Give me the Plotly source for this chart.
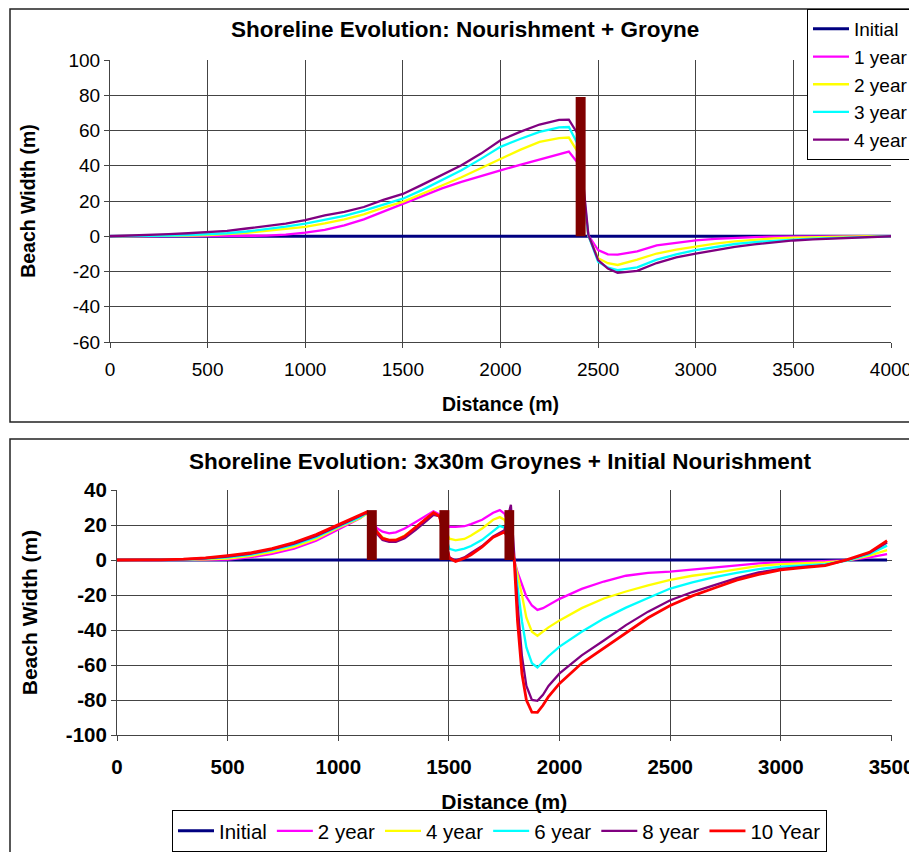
import plotly.graph_objects as go

# ---------------- Top chart data: Nourishment + Groyne ----------------
top_distance = [0, 100, 200, 300, 400, 500, 600, 700, 800, 900, 1000, 1100, 1200, 1300, 1400,
                1500, 1600, 1700, 1800, 1900, 2000, 2100, 2200, 2300, 2350, 2400, 2450, 2500,
                2550, 2600, 2700, 2800, 2900, 3000, 3100, 3200, 3300, 3400, 3500, 3600, 3700,
                3800, 3900, 4000]
top_initial = [0, 0, 0, 0, 0, 0, 0, 0, 0, 0, 0, 0, 0, 0, 0, 0, 0, 0, 0, 0, 0, 0, 0, 0,
               0, 0, 0, 0, 0, 0, 0, 0, 0, 0, 0, 0, 0, 0, 0, 0, 0, 0, 0, 0]
top_1year = [0, 0, 0, 0, 0, 0, 0, 0.1, 0.3, 0.9, 2.0, 3.6, 6.2, 9.6, 14.0, 18.3, 22.7, 27.2,
             30.8, 34.2, 37.4, 40.5, 43.5, 46.7, 48.0, 41.0, 0.5, -7.9, -10.3, -10.4, -8.6,
             -5.2, -3.6, -2.3, -1.5, -0.9, -0.5, -0.2, -0.1, 0, 0, 0, 0, 0]
top_2year = [0, 0, 0, 0.1, 0.3, 0.7, 1.2, 2.0, 3.0, 4.1, 5.3, 7.3, 9.6, 12.4, 16.2, 19.5,
             24.0, 28.8, 33.5, 38.6, 44.1, 49.0, 53.5, 55.7, 56.0, 47.0, 0.3, -12.5, -15.3,
             -16.3, -13.3, -9.8, -7.6, -5.7, -4.2, -2.9, -1.9, -1.2, -0.8, -0.5, -0.3, -0.1,
             0, 0]
top_3year = [0, 0, 0.2, 0.4, 0.7, 1.0, 1.7, 2.7, 3.9, 5.4, 7.1, 9.2, 11.6, 14.5, 17.9, 21.3,
             26.3, 31.8, 37.4, 43.9, 50.7, 55.2, 59.2, 61.8, 62.0, 51.3, 0.5, -14.4, -17.8,
             -19.2, -17.6, -13.3, -10.3, -7.9, -6.0, -4.4, -3.3, -2.5, -1.9, -1.4, -0.9, -0.6,
             -0.3, 0]
top_4year = [0, 0.3, 0.7, 1.2, 1.7, 2.3, 3.0, 4.4, 5.7, 7.2, 9.1, 11.9, 13.8, 16.6, 20.6,
             24.0, 29.3, 34.6, 40.3, 46.9, 54.5, 59.2, 63.4, 66.0, 66.2, 57.3, 0.8, -13.5,
             -18.3, -20.8, -19.6, -15.2, -12.0, -9.8, -7.8, -6.0, -4.6, -3.4, -2.4, -1.8,
             -1.3, -0.9, -0.5, 0]
top_groyne_start = [2385]
top_groyne_end = [2436]
top_groyne_height = [79]
top_x_ticks = [0, 500, 1000, 1500, 2000, 2500, 3000, 3500, 4000]
top_y_ticks = [-60, -40, -20, 0, 20, 40, 60, 80, 100]
top_y_ticklabels = ["-60", "-40", "-20", "0", "20", "40", "60", "80", "100"]

# ---------------- Bottom chart data: 3x30m Groynes + Initial Nourishment ----------------
bot_distance = [0, 100, 200, 300, 400, 500, 600, 700, 800, 900, 1000, 1100, 1130, 1175, 1200,
                1230, 1260, 1300, 1350, 1400, 1430, 1457, 1502, 1530, 1570, 1600, 1650, 1700,
                1730, 1751, 1780, 1795, 1810, 1830, 1850, 1875, 1900, 1925, 1950, 2000, 2100,
                2200, 2300, 2400, 2500, 2600, 2700, 2800, 2900, 3000, 3100, 3200, 3300, 3400,
                3480]
bot_initial = [0, 0, 0, 0, 0, 0, 0, 0, 0, 0, 0, 0, 0, 0, 0, 0, 0, 0, 0, 0, 0, 0, 0, 0, 0,
               0, 0, 0, 0, 0, 0, 0, 0, 0, 0, 0, 0, 0, 0, 0, 0, 0, 0, 0, 0, 0, 0, 0, 0, 0, 0,
               0, 0, 0, 0]
bot_2year = [0, 0, 0, 0, 0, 0.2, 1.5, 3.5, 6.5, 11.0, 17.5, 24.0, 27.0, 18.1, 16.2, 15.2,
             15.8, 18.0, 21.7, 25.3, 27.8, 26.0, 19.0, 18.9, 19.3, 20.5, 23.0, 27.0, 28.5,
             26.5, 18.0, 0, -7.0, -14.0, -21.0, -26.0, -28.5, -27.5, -25.8, -22.2, -16.5,
             -12.3, -9.0, -7.4, -6.6, -5.5, -4.3, -2.9, -1.9, -1.3, -0.9, -0.6, -0.2, 1.5, 3.4]
bot_4year = [0, 0, 0, 0, 0.3, 0.8, 2.2, 4.5, 7.5, 12.0, 18.5, 24.0, 26.5, 16.3, 13.0, 11.3,
             11.6, 14.0, 18.7, 24.0, 27.0, 25.0, 12.2, 11.4, 12.0, 14.0, 18.0, 23.0, 24.5,
             23.0, 14.0, 0, -8.0, -20.0, -33.0, -41.0, -43.3, -41.0, -38.5, -34.5, -27.5,
             -22.0, -18.0, -14.5, -11.3, -9.0, -7.4, -5.3, -3.3, -2.3, -1.8, -1.4, -0.3, 2.5,
             5.7]
bot_6year = [0, 0, 0, 0.2, 0.8, 1.5, 3.0, 5.5, 8.7, 13.0, 19.0, 24.5, 27.0, 16.3, 12.5, 10.9,
             11.0, 13.5, 18.3, 23.5, 26.5, 25.0, 6.4, 5.4, 6.5, 8.0, 11.5, 16.5, 19.5, 18.5,
             10.0, 0, -15.0, -35.0, -50.0, -59.0, -61.4, -58.0, -55.0, -49.5, -41.0, -33.5,
             -27.2, -21.7, -16.3, -12.8, -9.8, -7.3, -5.2, -3.8, -3.0, -2.3, -0.3, 3.4, 8.2]
bot_8year = [0, 0, 0, 0.3, 1.0, 2.0, 3.5, 6.0, 9.3, 13.8, 19.5, 25.0, 27.0, 15.0, 11.5, 10.3,
             10.3, 12.5, 17.2, 22.5, 25.8, 25.0, 1.5, -0.4, 1.5, 4.0, 8.0, 13.5, 15.5, 17.0,
             31.5, 0, -25.0, -55.0, -72.0, -80.0, -80.5, -77.0, -72.0, -64.8, -54.5, -46.0,
             -37.2, -29.5, -23.0, -18.3, -14.3, -10.3, -7.1, -5.1, -3.9, -2.9, 0, 4.0, 10.0]
bot_10year = [0, 0, 0.1, 0.5, 1.2, 2.5, 4.0, 6.5, 10.0, 14.5, 20.0, 25.5, 27.5, 16.0, 12.3,
              11.3, 11.3, 13.5, 18.5, 23.5, 27.0, 25.0, 1.0, -0.8, 1.0, 3.0, 7.5, 13.0, 15.0,
              16.0, 10.0, 0, -35.0, -65.0, -80.0, -87.0, -87.1, -83.0, -78.0, -70.5, -59.0,
              -50.5, -41.5, -33.0, -26.0, -20.5, -16.0, -11.5, -8.2, -5.7, -4.3, -3.2, 0.2,
              4.4, 11.0]
bot_groyne_start = [1129, 1457, 1751]
bot_groyne_end = [1174, 1502, 1795]
bot_groyne_height = [28.5, 28.5, 28.5]
bot_x_ticks = [0, 500, 1000, 1500, 2000, 2500, 3000, 3500]
bot_y_ticks = [-100, -80, -60, -40, -20, 0, 20, 40]
bot_y_ticklabels = ["-100", "-80", "-60", "-40", "-20", "0", "20", "40"]

top_series = [("Initial", top_initial, "#000080", 3),
              ("1 year", top_1year, "#FF00FF", 2.3),
              ("2 year", top_2year, "#FFFF00", 2.3),
              ("3 year", top_3year, "#00FFFF", 2.3),
              ("4 year", top_4year, "#800080", 2.3)]
bot_series = [("Initial", bot_initial, "#000080", 3),
              ("2 year", bot_2year, "#FF00FF", 2.3),
              ("4 year", bot_4year, "#FFFF00", 2.3),
              ("6 year", bot_6year, "#00FFFF", 2.3),
              ("8 year", bot_8year, "#800080", 2.3),
              ("10 Year", bot_10year, "#FF0000", 2.8)]

FONT = "Liberation Sans, Arial, sans-serif"
W, H = 909, 852
GRID = "#444444"

fig = go.Figure()

for name, vals, col, lw in top_series:
    fig.add_trace(go.Scatter(x=top_distance, y=vals, name=name, mode="lines",
                             line=dict(color=col, width=lw), xaxis="x", yaxis="y",
                             legend="legend"))
for g0, g1, gh in zip(top_groyne_start, top_groyne_end, top_groyne_height):
    fig.add_trace(go.Scatter(x=[g0, g1, g1, g0, g0], y=[0, 0, gh, gh, 0], mode="lines",
                             fill="toself", fillcolor="#800000", line=dict(width=0, color="#800000"),
                             showlegend=False, hoverinfo="skip", xaxis="x", yaxis="y"))

for name, vals, col, lw in bot_series:
    fig.add_trace(go.Scatter(x=bot_distance, y=vals, name=name, mode="lines",
                             line=dict(color=col, width=lw), xaxis="x2", yaxis="y2",
                             legend="legend2"))
for g0, g1, gh in zip(bot_groyne_start, bot_groyne_end, bot_groyne_height):
    fig.add_trace(go.Scatter(x=[g0, g1, g1, g0, g0], y=[0, 0, gh, gh, 0], mode="lines",
                             fill="toself", fillcolor="#800000", line=dict(width=0, color="#800000"),
                             showlegend=False, hoverinfo="skip", xaxis="x2", yaxis="y2"))

axis_common = dict(showgrid=True, gridcolor=GRID, gridwidth=1, zeroline=False,
                   showline=True, linecolor=GRID, linewidth=1, ticks="outside",
                   ticklen=5, tickcolor=GRID, fixedrange=True, automargin=False,
                   ticklabeloverflow="allow")

fig.update_layout(
    width=W, height=H, margin=dict(l=0, r=0, t=0, b=0, autoexpand=False),
    paper_bgcolor="white", plot_bgcolor="white",
    font=dict(family=FONT, color="black"),
    xaxis=dict(domain=[110 / W, 891 / W], anchor="y", range=[0, 4000],
               tickmode="array", tickvals=top_x_ticks, ticklabelstandoff=5,
               tickfont=dict(size=19, family=FONT),
               title=dict(text="Distance (m)", font=dict(size=19.5, family=FONT, weight="bold"),
                          standoff=18),
               **axis_common),
    yaxis=dict(domain=[1 - 342 / H, 1 - 60 / H], anchor="x", range=[-60, 100],
               tickmode="array", tickvals=top_y_ticks, ticktext=top_y_ticklabels,
               tickfont=dict(size=19, family=FONT),
               title=dict(text="Beach Width (m)", font=dict(size=19.5, family=FONT, weight="bold"),
                          standoff=27),
               **axis_common),
    xaxis2=dict(domain=[117 / W, 891.5 / W], anchor="y2", range=[0, 3500],
                tickmode="array", tickvals=bot_x_ticks, ticklabelstandoff=8,
                tickfont=dict(size=20.5, family=FONT, weight="bold"),
                title=dict(text="Distance (m)", font=dict(size=21, family=FONT, weight="bold"),
                           standoff=17),
                **axis_common),
    yaxis2=dict(domain=[1 - 735 / H, 1 - 490 / H], anchor="x2", range=[-100, 40],
                tickmode="array", tickvals=bot_y_ticks, ticktext=bot_y_ticklabels,
                tickfont=dict(size=20.5, family=FONT, weight="bold"),
                title=dict(text="Beach Width (m)", font=dict(size=21, family=FONT, weight="bold"),
                           standoff=22),
                **axis_common),
    legend=dict(x=807 / W, y=1 - 9 / H, xanchor="left", yanchor="top", bgcolor="white",
                bordercolor="black", borderwidth=1, font=dict(size=19, family=FONT),
                itemwidth=36, tracegroupgap=0),
    legend2=dict(orientation="h", x=172 / W, y=1 - 810 / H, xanchor="left", yanchor="top",
                 bgcolor="white", bordercolor="black", borderwidth=1,
                 font=dict(size=20.5, family=FONT), itemwidth=36),
    shapes=[
        dict(type="rect", xref="paper", yref="paper", x0=10 / W, x1=1.05, y0=1 - 422 / H,
             y1=1 - 9 / H, line=dict(color="#222222", width=1.5), layer="below"),
        dict(type="rect", xref="paper", yref="paper", x0=10 / W, x1=1.05, y0=-0.05,
             y1=1 - 439 / H, line=dict(color="#222222", width=1.5), layer="below"),
    ],
    annotations=[
        dict(text="Shoreline Evolution: Nourishment + Groyne", xref="paper", yref="paper",
             x=465 / W, y=1 - 30 / H, xanchor="center", yanchor="middle", showarrow=False,
             font=dict(size=22.5, family=FONT, weight="bold")),
        dict(text="Shoreline Evolution: 3x30m Groynes + Initial Nourishment", xref="paper",
             yref="paper", x=500 / W, y=1 - 461 / H, xanchor="center", yanchor="middle",
             showarrow=False, font=dict(size=22.5, family=FONT, weight="bold")),
    ],
    showlegend=True,
)

fig.write_html("out.html")
